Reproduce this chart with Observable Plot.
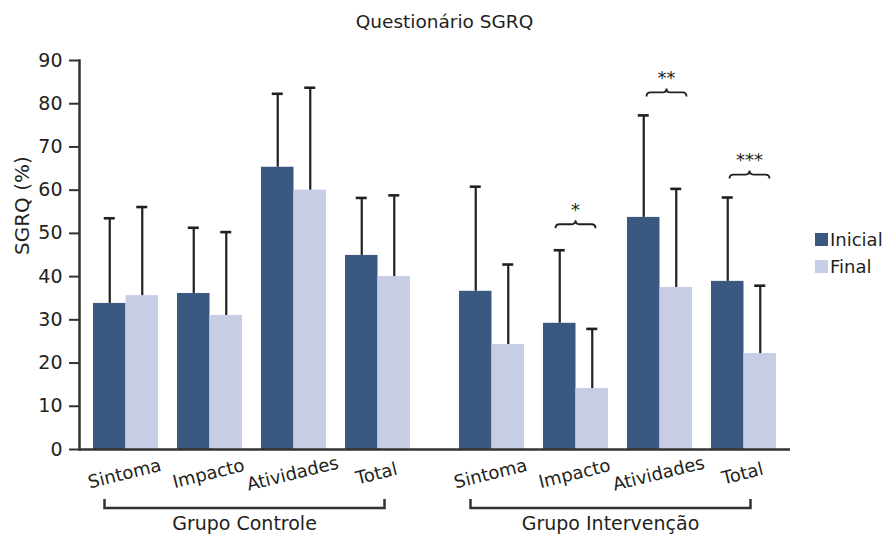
<!DOCTYPE html>
<html><head><meta charset="utf-8">
<script src="https://cdn.jsdelivr.net/npm/d3@7"></script>
<script src="https://cdn.jsdelivr.net/npm/@observablehq/plot@0.6"></script>
<style>
body{margin:0;background:#fff;font-family:"DejaVu Sans",sans-serif;color:#231f20}
#wrap{position:relative;width:889px;height:535px}
#title{height:40px;line-height:43px;text-align:center;font-size:18.5px}
#legend{position:absolute;left:815px;top:226px;font-size:18px}
.row{display:flex;align-items:center;height:27px}
.sw{width:13px;height:13px;margin-right:2px}
</style></head><body>
<div id="wrap"><div id="title">Questionário SGRQ</div><div id="chart"></div><div id="legend"></div></div>
<script>
const title = "Questionário SGRQ";
const yLabel = "SGRQ (%)";
const groups = ["Grupo Controle", "Grupo Intervenção"];
const domains = ["Sintoma", "Impacto", "Atividades", "Total"];
const series = ["Inicial", "Final"];
const inicialMean = [33.8, 36.1, 65.3, 44.9, 36.6, 29.2, 53.7, 38.9];
const inicialSD   = [19.7, 15.2, 17.0, 13.3, 24.2, 16.9, 23.6, 19.4];
const finalMean   = [35.6, 31.0, 60.0, 40.0, 24.3, 14.1, 37.5, 22.2];
const finalSD     = [20.5, 19.3, 23.7, 18.8, 18.5, 13.8, 22.8, 15.7];
const yTicks = [0, 10, 20, 30, 40, 50, 60, 70, 80, 90];
const sigGroup = "Grupo Intervenção";
const sigDomains = ["Impacto", "Atividades", "Total"];
const sigLabels = ["*", "**", "***"];
const sigLevels = [52, 82.5, 63.5];

const colors = ["#3b5880", "#c8cde6"];
const ink = "#231f20";
const groupShift = [-15, 15];
const sigShift = [0, 7, 6];

const rows = groups.flatMap((g, gi) => domains.map((d, di) => ({
  group: g, gi, domain: d, key: g + "|" + d,
  inicial: inicialMean[gi * 4 + di], inicialSD: inicialSD[gi * 4 + di],
  final: finalMean[gi * 4 + di], finalSD: finalSD[gi * 4 + di]
})));
const sig = sigDomains.map((d, i) => ({key: sigGroup + "|" + d, gi: groups.indexOf(sigGroup), label: sigLabels[i], level: sigLevels[i], shift: sigShift[i]}));

function perGroup(make) {
  return groups.map((g, gi) => make(rows.filter(r => r.gi === gi), groupShift[gi]));
}

function decorations(index, scales, values, dims) {
  const sx = scales.x, sy = scales.y;
  const bw = typeof sx.bandwidth === "function" ? sx.bandwidth() : sx.bandwidth;
  const cx = k => sx(k) + bw / 2;
  const g = d3.create("svg:g").attr("fill", "none").attr("stroke", ink);
  sig.forEach(s => {
    const x = cx(s.key) + groupShift[s.gi] + s.shift, y = sy(s.level), w = 20, h = 4;
    g.append("path").attr("stroke-width", 1.8).attr("d",
      `M${x - w},${y + h}Q${x - w},${y} ${x - w + 4},${y}L${x - 4},${y}Q${x},${y} ${x},${y - h}` +
      `Q${x},${y} ${x + 4},${y}L${x + w - 4},${y}Q${x + w},${y} ${x + w},${y + h}`);
    g.append("text").attr("x", x).attr("y", y - 14).attr("dy", "0.32em")
      .attr("text-anchor", "middle").attr("fill", ink).attr("stroke", "none")
      .attr("font-size", 18).text(s.label);
  });
  const yb = dims.height - dims.marginBottom + 59;
  groups.forEach((gname, gi) => {
    const x1 = cx(gname + "|" + domains[0]) + groupShift[gi] - 21;
    const x2 = cx(gname + "|" + domains[domains.length - 1]) + groupShift[gi] + 7;
    g.append("path").attr("stroke-width", 2.5).attr("stroke", "#333")
      .attr("d", `M${x1},${yb - 9}V${yb}H${x2}V${yb - 9}`);
    g.append("text").attr("x", (x1 + x2) / 2).attr("y", yb + 15).attr("dy", "0.35em")
      .attr("text-anchor", "middle").attr("fill", ink).attr("stroke", "none")
      .attr("font-size", 19).text(gname);
  });
  return g.node();
}

const chart = Plot.plot({
  width: 889, height: 495,
  marginLeft: 79, marginRight: 99, marginTop: 20, marginBottom: 86,
  style: {fontFamily: "DejaVu Sans, sans-serif", fontSize: "18px", color: ink, background: "white", overflow: "visible"},
  x: {type: "band", domain: rows.map(r => r.key), paddingInner: 0.2262, paddingOuter: 0.345, axis: null},
  y: {domain: [0, 90], axis: null},
  marks: [
    ...perGroup((data, dx) => Plot.barY(data, {x: "key", y: "inicial", fill: colors[0], insetRight: 32.5, dx})),
    ...perGroup((data, dx) => Plot.barY(data, {x: "key", y: "final", fill: colors[1], insetLeft: 32.5, dx})),
    ...perGroup((data, dx) => Plot.ruleX(data, {x: "key", y1: "inicial", y2: d => d.inicial + d.inicialSD, dx: dx - 16.25, stroke: ink, strokeWidth: 2.2})),
    ...perGroup((data, dx) => Plot.ruleX(data, {x: "key", y1: "final", y2: d => d.final + d.finalSD, dx: dx + 16.25, stroke: ink, strokeWidth: 2.2})),
    ...perGroup((data, dx) => Plot.tickY(data, {x: "key", y: d => d.inicial + d.inicialSD, dx, insetLeft: 10.75, insetRight: 43.25, stroke: ink, strokeWidth: 2.6})),
    ...perGroup((data, dx) => Plot.tickY(data, {x: "key", y: d => d.final + d.finalSD, dx, insetLeft: 43.25, insetRight: 10.75, stroke: ink, strokeWidth: 2.6})),
    ...perGroup((data, dx) => Plot.text(data, {x: "key", text: "domain", frameAnchor: "bottom", dy: 30, dx, rotate: -14, fontSize: 18, fill: ink})),
    Plot.axisY({ticks: yTicks, tickSize: 10, tickPadding: 7, fontSize: 19, label: null, strokeWidth: 2, stroke: "#333"}),
    Plot.frame({anchor: "left", stroke: "#333", strokeWidth: 2.5}),
    Plot.ruleY([0], {stroke: "#333", strokeWidth: 2.5}),
    Plot.text([yLabel], {frameAnchor: "left", dx: -57, rotate: -90, fontSize: 20, fill: ink}),
    decorations
  ]
});
document.getElementById("chart").appendChild(chart);
document.getElementById("title").textContent = title;
const legend = d3.select("#legend");
series.forEach((s, i) => {
  const row = legend.append("div").attr("class", "row");
  row.append("div").attr("class", "sw").style("background", colors[i]);
  row.append("span").text(s);
});
</script>
</body></html>
